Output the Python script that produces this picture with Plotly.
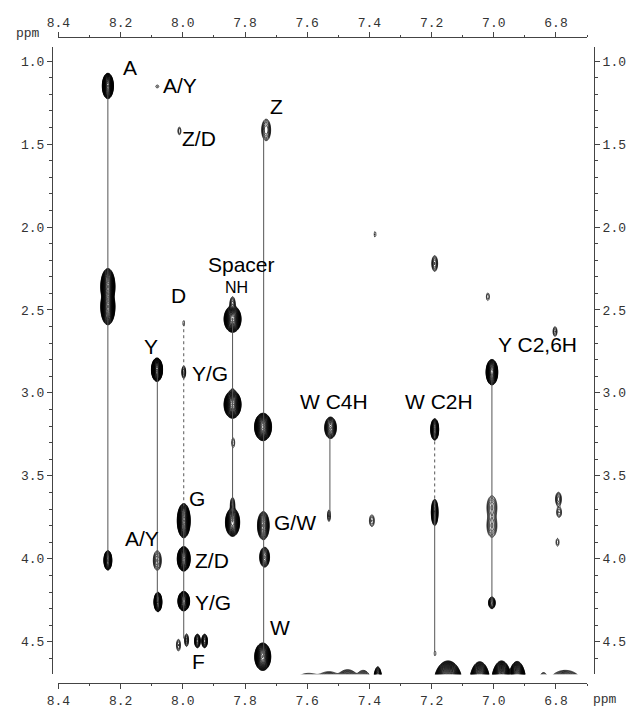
import numpy as np
import plotly.graph_objects as go

# ---------------- data: cross peaks (F2 ppm, F1 ppm, outer width, outer height, relative intensity)
peak_x = [8.241, 8.082, 8.011, 7.732, 8.241, 8.241, 7.840, 7.840, 7.997, 8.083,
          7.997, 7.006, 7.840, 7.840, 7.838, 7.742, 7.525, 7.190, 7.382, 7.190,
          7.019, 6.803, 7.997, 7.997, 7.997, 8.241, 8.082, 8.080, 7.840, 7.840,
          7.741, 7.737, 7.530, 7.392, 7.190, 7.006, 7.006, 6.792, 6.790, 6.795,
          7.006, 8.014, 7.988, 7.953, 7.930, 7.743, 7.189]
peak_y = [1.150, 1.153, 1.421, 1.415, 2.360, 2.480, 2.555, 2.470, 2.580, 2.860,
          2.875, 2.875, 3.070, 3.010, 3.300, 3.205, 3.210, 3.220, 2.044, 2.220,
          2.420, 2.630, 3.770, 4.000, 4.255, 4.009, 4.010, 4.260, 3.780, 3.680,
          3.800, 3.990, 3.740, 3.770, 3.720, 3.690, 3.800, 3.640, 3.720, 3.900,
          4.265, 4.520, 4.490, 4.495, 4.495, 4.590, 4.570]
peak_w = [0.036, 0.010, 0.010, 0.029, 0.046, 0.046, 0.055, 0.018, 0.006, 0.036,
          0.013, 0.038, 0.055, 0.018, 0.010, 0.055, 0.038, 0.026, 0.006, 0.019,
          0.010, 0.013, 0.042, 0.042, 0.038, 0.026, 0.026, 0.026, 0.046, 0.015,
          0.038, 0.032, 0.010, 0.016, 0.022, 0.032, 0.032, 0.019, 0.016, 0.010,
          0.022, 0.013, 0.013, 0.019, 0.019, 0.052, 0.006]
peak_h = [0.154, 0.018, 0.047, 0.130, 0.220, 0.220, 0.160, 0.100, 0.035, 0.142,
          0.077, 0.154, 0.166, 0.070, 0.059, 0.166, 0.130, 0.130, 0.035, 0.095,
          0.047, 0.059, 0.207, 0.148, 0.118, 0.118, 0.118, 0.118, 0.170, 0.100,
          0.170, 0.120, 0.071, 0.071, 0.160, 0.140, 0.140, 0.083, 0.060, 0.047,
          0.071, 0.071, 0.077, 0.083, 0.083, 0.166, 0.030]
peak_amp = [3000, 1.5, 2, 8, 3000, 3000, 3000, 6, 1.5, 3000,
            4, 1000, 3000, 4, 2, 5000, 100, 300, 1.5, 6,
            2, 3, 3000, 3000, 1000, 300, 6, 300, 1000, 6,
            100, 50, 3, 3, 100, 6, 6, 5, 3, 2,
            20, 3, 5, 30, 30, 3000, 1.5]

# solvent ridge at the bottom edge: F2 position, top of ridge (ppm), half width at the edge (ppm)
ridge_x = [7.595, 7.530, 7.470, 7.420, 7.373, 7.147, 7.045, 6.975, 6.925, 6.840, 6.770]
ridge_top = [4.690, 4.680, 4.668, 4.672, 4.650, 4.615, 4.620, 4.615, 4.618, 4.685, 4.672]
ridge_hw = [0.025, 0.030, 0.030, 0.020, 0.012, 0.042, 0.030, 0.030, 0.026, 0.010, 0.040]
ridge_center = 4.76
ridge_sy = 0.03
plot_edge = 4.70

# spin-system connection lines
conn_x = [8.241, 8.082, 7.840, 7.740, 7.527, 7.006, 7.997, 7.997, 7.190, 7.190]
conn_top = [1.150, 2.860, 2.555, 1.415, 3.210, 2.875, 2.580, 3.700, 3.220, 3.720]
conn_bot = [4.009, 4.260, 3.780, 4.590, 3.740, 4.265, 3.700, 4.480, 3.720, 4.560]
conn_dash = ["solid", "solid", "solid", "solid", "solid", "solid", "dot", "solid", "dot", "solid"]

# assignment labels
lab_text = ["A", "A/Y", "Z/D", "Z", "Spacer", "NH", "D", "Y", "Y/G", "Y C2,6H",
            "W C4H", "W C2H", "G", "A/Y", "G/W", "Z/D", "Y/G", "F", "W"]
lab_x = [8.170, 8.008, 7.949, 7.700, 7.810, 7.827, 8.013, 8.102, 7.912, 6.860,
         7.514, 7.175, 7.955, 8.130, 7.639, 7.907, 7.902, 7.949, 7.689]
lab_y = [1.040, 1.149, 1.464, 1.271, 2.228, 2.365, 2.411, 2.719, 2.885, 2.707,
         3.052, 3.052, 3.634, 3.880, 3.782, 4.009, 4.265, 4.620, 4.413]
lab_size = [21, 21, 21, 21, 21, 16, 21, 21, 21, 21, 21, 21, 21, 21, 21, 21, 21, 21, 21]

x_range = [8.4, 6.7]
y_range = [4.695, 0.914]

# ---------------- build intensity surface
gx = np.arange(6.69, 8.41, 0.0035)
gy = np.arange(0.90, 4.72, 0.0060)
I = np.zeros((gy.size, gx.size))
for x0, y0, w, h, a in zip(peak_x, peak_y, peak_w, peak_h, peak_amp):
    k = np.sqrt(2 * np.log(a))
    sx, sy = w / 2 / k, h / 2 / k
    I += a * np.outer(np.exp(-(gy - y0) ** 2 / (2 * sy ** 2)), np.exp(-(gx - x0) ** 2 / (2 * sx ** 2)))
for x0, top, hw in zip(ridge_x, ridge_top, ridge_hw):
    ln_a = ((ridge_center - top) / ridge_sy) ** 2 / 2
    ln_edge = ln_a - ((ridge_center - plot_edge) / ridge_sy) ** 2 / 2
    sx = hw / np.sqrt(2 * max(ln_edge, 0.2))
    I += np.exp(ln_a) * np.outer(np.exp(-(gy - ridge_center) ** 2 / (2 * ridge_sy ** 2)),
                                 np.exp(-(gx - x0) ** 2 / (2 * sx ** 2)))
Z = np.log10(I + 1e-3).astype(np.float32)

fig = go.Figure()
for xc, t, b, d in zip(conn_x, conn_top, conn_bot, conn_dash):
    fig.add_trace(go.Scatter(x=[xc, xc], y=[t, b], mode="lines",
                             line=dict(color="#555", width=1, dash=d),
                             hoverinfo="skip", showlegend=False))
fig.add_trace(go.Contour(x=gx, y=gy, z=Z, autocontour=False,
                         contours=dict(start=0, end=6, size=0.15, coloring="lines"),
                         colorscale=[[0, "black"], [1, "black"]], showscale=False,
                         line=dict(width=0.75), hoverinfo="skip"))
fig.add_trace(go.Scatter(x=[None], y=[None], xaxis="x2", yaxis="y2", mode="markers",
                         showlegend=False, hoverinfo="skip"))

for t, x, y, s in zip(lab_text, lab_x, lab_y, lab_size):
    fig.add_annotation(x=x, y=y, text=t, showarrow=False, xanchor="center", yanchor="middle",
                       font=dict(family="Liberation Sans, Arial", size=s, color="#000000"))

tickfont = dict(family="Liberation Mono, Courier New, monospace", size=13, color="#333")
ax_common = dict(showgrid=False, zeroline=False, showline=True, linecolor="#444", linewidth=1,
                 ticks="outside", ticklen=5, tickwidth=1, tickcolor="#444", tickfont=tickfont)
xdom = [(58.5 - 52) / 548, (593 - 52) / 548]
ydom = [(695 - 686) / 658, (695 - 47) / 658]

fig.update_layout(
    width=638, height=721, margin=dict(l=52, r=38, t=37, b=26),
    paper_bgcolor="white", plot_bgcolor="white", showlegend=False,
    xaxis=dict(domain=xdom, range=x_range, anchor="free", position=0, dtick=0.2, tick0=0,
               tickformat=".1f", minor=dict(dtick=0.1, ticklen=2, ticks="outside", tickcolor="#444"),
               **ax_common),
    xaxis2=dict(domain=xdom, range=x_range, matches="x", overlaying="x", side="top", anchor="free",
                position=1, dtick=0.2, tick0=0, tickformat=".1f",
                minor=dict(dtick=0.1, ticklen=2, ticks="outside", tickcolor="#444"), **ax_common),
    yaxis=dict(domain=ydom, range=y_range, anchor="free", position=0, dtick=0.5, tick0=0,
               tickformat=".1f", minor=dict(dtick=0.1, ticklen=3, ticks="outside", tickcolor="#444"),
               **ax_common),
    yaxis2=dict(domain=ydom, range=y_range, matches="y", overlaying="y", side="right", anchor="free",
                position=1, dtick=0.5, tick0=0, tickformat=".1f",
                minor=dict(dtick=0.1, ticklen=3, ticks="outside", tickcolor="#444"), **ax_common),
)
fig.add_annotation(x=-0.044, y=1.006, xref="paper", yref="paper", text="ppm", showarrow=False,
                   xanchor="center", yanchor="middle", font=tickfont)
fig.add_annotation(x=1.020, y=-0.026, xref="paper", yref="paper", text="ppm", showarrow=False,
                   xanchor="center", yanchor="middle", font=tickfont)

fig.write_html("out.html")
